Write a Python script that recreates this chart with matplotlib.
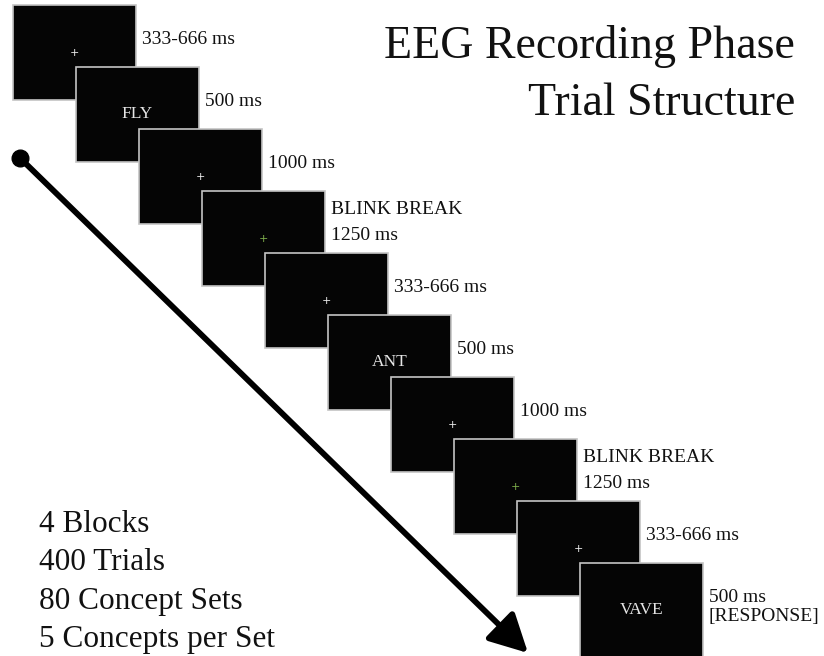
import matplotlib.pyplot as plt
from matplotlib.patches import Rectangle, FancyArrowPatch

# Содержимое экранов пробы (по порядку)
stimuli = ['+', 'FLY', '+', '+', '+', 'ANT', '+', '+', '+', 'VAVE']
durations = ['333-666 ms', '500 ms', '1000 ms', 'BLINK BREAK\n1250 ms', '333-666 ms',
             '500 ms', '1000 ms', 'BLINK BREAK\n1250 ms', '333-666 ms', '500 ms\n[RESPONSE]']
blink = [False, False, False, True, False, False, False, True, False, False]
summary = ['4 Blocks', '400 Trials', '80 Concept Sets', '5 Concepts per Set']

serif = 'Liberation Serif'

fig = plt.figure(figsize=(8.24, 6.56), dpi=100)
ax = fig.add_axes([0, 0, 1, 1])
ax.set_xlim(0, 824)
ax.set_ylim(656, 0)
ax.axis('off')

# экраны
x0, y0, dx, dy = 13, 5, 63.0, 62.0
w, h = 123, 95
for i, (stim, lab) in enumerate(zip(stimuli, durations)):
    left, top = x0 + dx * i, y0 + dy * i
    ax.add_patch(Rectangle((left, top), w, h, facecolor='#050505',
                           edgecolor='#c4c4c4', lw=1.2, zorder=2 + i))
    cx, cy = left + w / 2, top + h / 2
    if stim == '+':
        col = '#7fb04c' if blink[i] else '#f0f0f0'
        ax.text(cx, cy, '+', color=col, fontsize=8, ha='center', va='center',
                family='DejaVu Sans', zorder=2 + i)
    else:
        ax.text(cx, cy, stim, color='#e6e6e6', fontsize=12.5, ha='center',
                va='center', family=serif, zorder=2 + i)
    lines = lab.split('\n')
    tx = left + w + 6
    if len(lines) == 1:
        offs = [35]
    elif blink[i]:
        offs = [18, 44]
    else:
        offs = [35, 53]
    for line, o in zip(lines, offs):
        ax.text(tx, top + o, line, fontsize=14, ha='left', va='center',
                family=serif, color='#111111', zorder=20)

# заголовок
ax.text(795, 58, 'EEG Recording Phase', fontsize=33, ha='right', va='baseline',
        family=serif, color='#111111')
ax.text(795, 115, 'Trial Structure', fontsize=33, ha='right', va='baseline',
        family=serif, color='#111111')

# итоги
for k, s in enumerate(summary):
    ax.text(39, 532 + 38.5 * k, s, fontsize=22.5, ha='left', va='baseline',
            family=serif, color='#111111')

# стрелка времени
ax.plot([20], [158], 'o', color='black', ms=12, zorder=1)
arr = FancyArrowPatch((20, 158), (528, 653),
                      arrowstyle='-|>,head_length=1.05,head_width=0.55',
                      mutation_scale=22, lw=4.2, color='black', zorder=1,
                      shrinkA=0, shrinkB=0)
ax.add_patch(arr)

plt.savefig('out.png', dpi=100)
